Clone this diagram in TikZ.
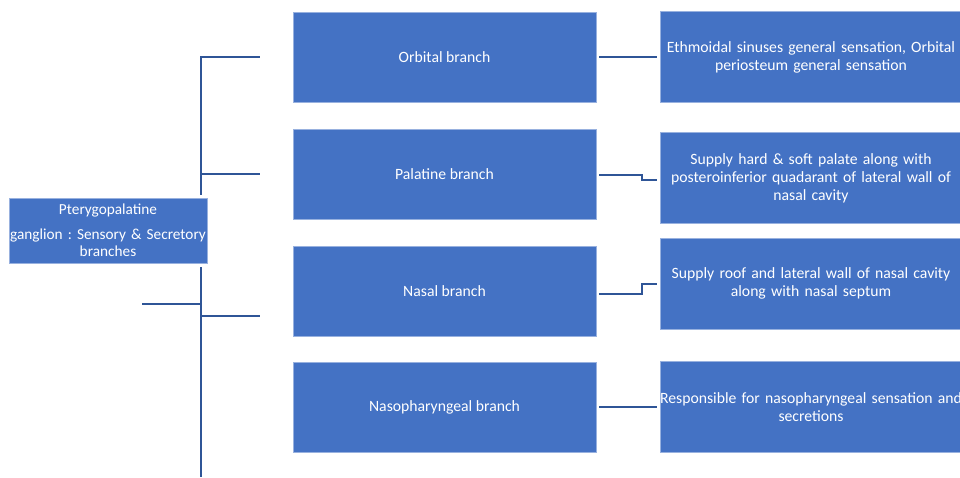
\documentclass[tikz,border=0pt]{standalone}
\usepackage{fontspec}
\setmainfont{Carlito}
\frenchspacing
\usetikzlibrary{calc}
\definecolor{boxblue}{HTML}{4472C4}
\definecolor{linkblue}{HTML}{2F5597}
\tikzset{
  blk/.style={fill=boxblue,draw=boxblue!55!white,line width=0.6pt,text=white,
    inner sep=0pt,align=center,font=\fontsize{15.7}{18}\selectfont\frenchspacing},
  branchbox/.style={blk,minimum width=303pt,minimum height=90pt},
  infobox/.style={blk,minimum width=302pt,minimum height=91pt,text width=300pt},
  link/.style={draw=linkblue,line width=2pt}
}
\begin{document}
\begin{tikzpicture}[x=1pt,y=-1pt]
\useasboundingbox (0,0) rectangle (960,477);
\node[blk,minimum width=198pt,minimum height=65pt,text width=198pt,font=\fontsize{15.3}{17}\selectfont\frenchspacing] (root) at (108,230.5)
  {Pterygopalatine\\[8pt]\makebox[0pt]{ganglion : Sensory \& Secretory}\\branches};
\node[branchbox] (orb) at (444.5,57) {Orbital branch};
\node[branchbox] (pal) at (444.5,174) {Palatine branch};
\node[branchbox] (nas) at (444.5,291) {Nasal branch};
\node[branchbox] (nph) at (444.5,407) {Nasopharyngeal branch};
\node[infobox] (orbI) at (811,57) {Ethmoidal sinuses general sensation, Orbital\\periosteum general sensation};
\node[infobox] (palI) at (811,178) {Supply hard \& soft palate along with\\posteroinferior quadarant of lateral wall of\\nasal cavity};
\node[infobox] (nasI) at (811,283.5) {Supply roof and lateral wall of nasal cavity\\along with nasal septum};
\node[infobox] (nphI) at (811,407) {\makebox[0pt]{Responsible for nasopharyngeal sensation and}\\secretions};
\coordinate (top) at (201,57);
\coordinate (bot) at (201,477);
\coordinate (stub) at (142,304);
\draw[link] ([xshift=-33pt]orb.west) -- (top) -- ([yshift=3pt]root.north -| top);
\draw[link] ([xshift=-33pt]pal.west) -- (pal.west -| top);
\draw[link] ([yshift=-4pt]root.south -| bot) -- (bot);
\draw[link] ([xshift=-33pt,yshift=-25pt]nas.west) -- ([yshift=-25pt]nas.west -| bot);
\draw[link] (stub) -- (stub -| bot);
\draw[link] ([xshift=3pt]orb.east) -- ([xshift=-3pt]orbI.west);
\draw[link] ([xshift=3pt,yshift=-1pt]pal.east) -- ++(43,0) |- ([xshift=-3pt,yshift=-2pt]palI.west);
\draw[link] ([xshift=3pt,yshift=-3pt]nas.east) -- ++(43,0) |- ([xshift=-3pt]nasI.west);
\draw[link] ([xshift=3pt]nph.east) -- ([xshift=-3pt]nphI.west);
\end{tikzpicture}
\end{document}
